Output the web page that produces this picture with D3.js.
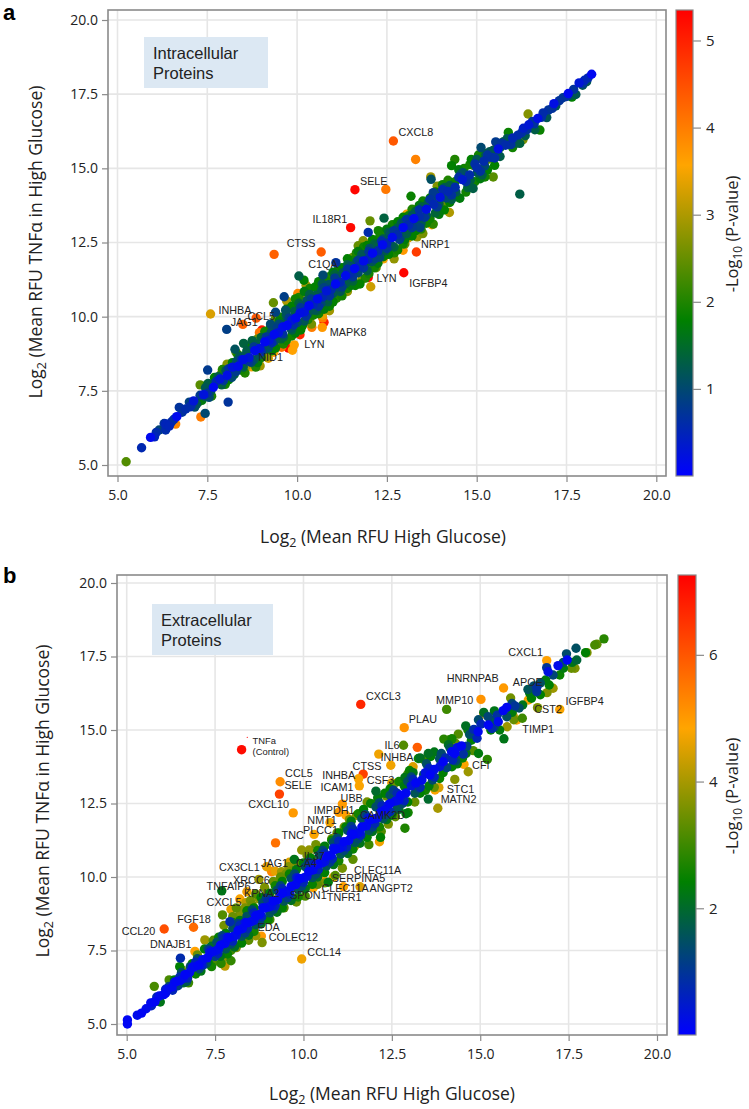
<!DOCTYPE html>
<html><head><meta charset="utf-8">
<script src="https://cdn.jsdelivr.net/npm/d3@7"></script>
<style>html,body{margin:0;padding:0;background:#fff}svg{display:block}</style>
</head><body><svg id="c" width="749" height="1109"></svg>
<script>
const axisTicks=[5,7.5,10,12.5,15,17.5,20];
const aColorTicks=[1,2,3,4,5];
const bColorTicks=[2,4,6];
const aColorMax=5.35, bColorMax=7.26;
const colorStops=["#0000ff","#008000","#ffa500","#ff0000"];

// Panel a: [mean RFU high glucose, mean RFU TNFa + high glucose, -log10 p]
const aOutliers=[[12.68,15.92,4.4],[13.3,15.3,3.95],[11.61,14.28,5.3],[12.47,14.29,4.05],[13.17,14.06,1.85],[11.49,13,5.25],[12.42,13.32,1.35],[9.36,12.1,4.3],[10.67,12.18,4.35],[13.32,12.18,4.7],[12.97,11.48,5.3],[11.98,11.32,5.3],[12.05,11.01,3.2],[7.59,10.09,3.3],[8.04,9.57,.85],[8.86,9.95,4.4],[8.49,9.74,4.3],[9.02,9.55,5.1],[8.95,9.46,4.1],[10.08,9.39,4.9],[9.57,8.97,4.2],[9.76,8.94,5.3],[9.92,9.05,3.6],[9.87,8.87,3.6],[10.41,9.64,4],[10.7,9.64,3.7],[10.75,9.81,5],[10.71,9.96,4],[10.87,10.22,3.7],[10.02,10.78,3.9],[9.34,10.47,2.5],[9.71,10.53,3],[9.64,10.67,.85],[9.4,10.15,.9],[9.68,10.22,1.1],[10.05,11.37,1.3],[10.19,11.23,1.8],[10.25,11.06,2.9],[11.08,11.82,.7],[10.72,11.4,1],[7.51,8.2,.8],[8.27,8.9,1.15],[8.51,9.1,1.35],[8.75,9.19,1.35],[9.26,9.75,1],[5.24,5.11,2.35],[5.67,5.58,.55],[6.03,5.95,.5],[6.16,6.18,.95],[6.34,6.18,.6],[6.34,6.38,.5],[6.44,6.31,.5],[6.62,6.38,3.9],[6.57,6.54,.6],[6.72,6.94,.7],[6.9,6.89,.6],[7.02,6.96,.6],[7.32,6.62,4],[7.44,6.74,1],[8.08,7.12,.7],[7.25,7.13,1.7],[7.44,7.3,1.3],[7.3,7.7,2.4],[7.53,7.75,1.3],[16.43,16.83,2.7],[15.88,16.21,1.85],[16.76,16.29,1.85],[16.2,15.84,1.35],[16.29,15.97,2.7],[15.53,15.89,.8],[15.12,15.7,1],[15.39,15.56,1.85],[14.39,15.3,2],[14.3,15.09,1.8],[14.81,15.13,1.9],[14.92,15.09,2.5],[15.46,14.71,2.4],[15.23,14.71,1.9],[14.9,14.32,1.3],[14.53,13.99,1.7],[13.72,14.71,2.9],[13.73,14.63,1.1],[16.2,14.13,1.3],[13.79,14.18,.8],[14.07,13.65,3.5],[14.24,13.51,3],[13.79,13.12,2.1],[13.42,13,.9],[12.03,13.23,2.5],[11.98,12.84,.6],[12.26,12.9,1.9],[13.09,12.65,3.3],[13.34,12.69,2.8],[12.95,12.24,3.7],[11.84,12.56,2.7],[11.7,12.39,2.5],[16.95,16.71,1.2],[17.76,17.49,1.2],[18.06,17.92,1.2]];
const aCore=[[5.92,5.93,.12],[6.65,6.63,.12],[7.12,7.16,.3],[7.4,7.37,.25],[7.67,7.62,.1],[7.85,7.9,.3],[8.05,8.02,.2],[8.2,8.3,.25],[8.36,8.33,.15],[8.5,8.55,.2],[8.66,8.62,.3],[8.82,8.85,.15],[8.96,8.93,.25],[9.1,9.15,.1],[9.22,9.2,.3],[9.36,9.4,.12],[9.48,9.46,.25],[9.6,9.65,.15],[9.72,9.7,.1],[9.85,9.88,.3],[9.97,9.96,.1],[10.08,10.12,.2],[10.2,10.16,.25],[10.33,10.37,.1],[10.45,10.42,.5],[10.57,10.6,.15],[10.7,10.66,.55],[10.82,10.87,.3],[10.95,10.92,.6],[11.07,11.1,.1],[11.2,11.16,.55],[11.35,11.38,.15],[11.47,11.45,.6],[11.6,11.62,.1],[11.72,11.7,.6],[11.85,11.88,.15],[11.97,11.93,.55],[12.1,12.14,.1],[12.25,12.22,.6],[12.38,12.42,.12],[12.5,12.48,.55],[12.65,12.67,.15],[12.8,12.76,.6],[12.95,13,.1],[13.1,13.08,.55],[13.25,13.3,.12],[13.4,13.38,.6],[13.6,13.62,.2],[13.8,13.78,.55],[13.98,14.02,.25],[14.2,14.22,.55],[14.4,14.36,.6],[14.6,14.62,.35],[14.8,14.78,.6],[15,15.02,.6],[15.2,15.24,.6],[15.4,15.37,.65],[15.6,15.65,.2],[15.8,15.78,.6],[16,16.02,.55],[16.15,16.12,.6],[16.3,16.35,.4],[16.45,16.47,.3],[16.55,16.58,.7],[16.7,16.68,.2],[16.85,16.87,.6],[17,16.97,.7],[17.15,17.18,.2],[17.3,17.28,.7],[17.4,17.38,.8],[17.55,17.52,.1],[17.7,17.66,.7],[17.85,17.88,.3],[18,17.97,.5],[18.1,18.05,.6],[18.2,18.17,.1]];
const aNavy=[[6.08,6.1,.6],[6.3,6.4,.7],[6.5,6.45,.6],[6.8,6.78,.7],[7.05,7,.65],[7.3,7.35,.8],[7.5,7.42,.7],[7.75,7.82,.6],[7.95,7.85,.75],[8.1,8.25,.7],[8.3,8.15,.8],[8.45,8.55,.65],[8.65,8.5,.7],[8.8,8.98,.8],[9,8.82,.65],[9.15,9.32,.75],[9.3,9.12,.6],[9.45,9.62,.85],[9.6,9.42,.7],[9.78,9.95,.8],[9.9,9.72,.65],[10.1,10.3,.75],[10.25,10.02,.7],[10.4,10.6,.85],[10.6,10.35,.7],[10.75,10.98,.9],[10.9,10.7,.7],[11.05,11.3,.8],[11.25,11,.85],[11.4,11.6,.7],[11.55,11.35,.75],[11.7,11.9,.85],[11.85,11.65,.7],[12,12.2,.75],[12.15,11.95,.9],[12.35,12.55,.65],[12.5,12.3,.8],[12.7,12.9,.75],[12.85,12.6,.85],[13.05,13.28,.7],[13.2,13,.8],[13.4,13.6,.65],[13.55,13.35,.75],[13.7,13.95,.7],[13.9,13.7,.8],[14.05,14.28,.6],[14.3,14.1,.7],[14.5,14.7,.65],[14.7,14.55,.7],[14.95,15.15,.65],[15.1,14.9,.7],[15.3,15.45,.7],[15.5,15.35,.65],[15.7,15.85,.7],[15.95,15.8,.7],[16.25,16.2,.65],[16.4,16.3,.7],[16.6,16.5,.7],[16.8,16.72,.65],[17.1,17.02,.7],[17.5,17.42,.7],[17.95,17.85,.75]];
const aTeal=[[7.2,7.05,1.2],[7.6,7.5,1.1],[7.9,7.7,1.3],[8.25,8.05,1.4],[8.4,8.65,1.2],[8.6,8.85,1.3],[8.8,8.55,1.2],[9,9.3,1.4],[9.2,8.95,1.1],[9.35,9.65,1.3],[9.55,9.25,1.4],[9.7,10.05,1.2],[9.85,9.55,1.3],[10.05,10.45,1.4],[10.2,9.85,1.2],[10.35,10.75,1.3],[10.55,10.2,1.4],[10.7,11.1,1.2],[10.85,10.5,1.3],[11.05,11.42,1.4],[11.2,10.85,1.2],[11.4,11.75,1.3],[11.55,11.2,1.4],[11.8,12.1,1.2],[11.95,11.55,1.3],[12.15,12.45,1.4],[12.3,12.1,1.2],[12.55,12.85,1.3],[12.7,12.35,1.4],[12.9,13.15,1.2],[13.05,12.8,1.3],[13.3,13.55,1.4],[13.45,13.15,1.2],[13.65,13.85,1.3],[13.85,13.5,1.4],[14.1,14.35,1.2],[14.3,13.95,1.3],[14.55,14.8,1.2],[14.75,14.35,1.4],[15,15.3,1.2],[15.15,14.78,1.3],[15.35,15.55,1.2],[15.65,15.4,1.3],[15.85,16,1.2],[16.1,15.85,1.3],[16.35,16.1,1.25],[16.62,16.3,1.3],[16.9,16.75,1.2],[17.2,17.1,1.2],[17.6,17.45,1.25],[17.95,17.8,1.2]];
const aTealFill=[[7,7.12,.9],[7.15,6.95,1.1],[7.45,7.6,1.2],[7.55,7.28,1],[7.8,7.98,1.3],[8.02,8.18,1.2],[8.18,7.95,1],[8.32,8.5,1.1],[8.5,8.3,1.3],[8.58,8.72,1.2],[8.72,8.46,1],[8.85,9.08,1.3],[8.95,8.72,1.1],[9.08,9.24,1.2],[9.12,8.9,1.3],[9.28,9.48,1.1],[9.38,9.18,1.2],[9.5,9.75,1],[9.62,9.32,1.3],[9.72,9.88,1.2],[9.82,9.62,1.1],[9.93,10.18,1.3],[10,9.8,1],[10.12,10.38,1.2],[10.3,10.1,1.3],[10.28,10.55,1.1],[10.48,10.22,1.2],[10.52,10.72,1.3],[10.66,10.45,1],[10.68,10.88,1.2],[10.8,10.58,1.3],[10.88,11.08,1.1],[11,10.78,1.2],[11.1,11.32,1.3],[11.15,11,1],[11.28,11.48,1.2],[11.35,11.12,1.3],[11.48,11.7,1.1],[11.5,11.3,1.2],[11.65,11.85,1.3],[11.7,11.48,1],[11.82,12.02,1.2],[11.9,11.72,1.3],[12.02,12.3,1.1],[12.08,11.85,1.2],[12.2,12.4,1.3],[12.3,12,1],[12.4,12.62,1.2],[12.45,12.22,1.3],[12.6,12.8,1.1],[12.62,12.4,1.2],[12.78,12.98,1.3],[12.9,12.7,1.2],[13,13.2,1.1],[13.12,12.95,1.3],[13.2,13.42,1.2],[13.32,13.1,1],[13.48,13.7,1.3],[13.6,13.42,1.2],[13.75,13.98,1.1],[13.95,13.8,1.3],[14,14.18,1.2],[14.15,14,1],[14.25,14.42,1.3],[14.42,14.2,1.2],[14.62,14.85,1.1],[14.82,14.6,1.3],[15.02,14.85,1.2],[15.22,15.08,1],[15.25,15.45,1.3],[15.45,15.6,1.2],[15.6,15.45,1.2],[15.75,15.9,1.3],[16.02,15.95,1.2]];
const aGreen=[[7.35,7.18,1.7],[7.7,7.95,1.8],[8,7.72,1.9],[8.2,8.45,1.7],[8.45,8.2,1.9],[8.65,9,1.8],[8.9,8.45,1.7],[9.1,9.5,1.9],[9.3,8.85,1.8],[9.5,9.85,1.7],[9.7,9.2,1.9],[9.7,10.25,1.8],[9.95,9.45,1.7],[9.95,10.6,1.9],[10.15,9.7,1.8],[10.2,10.85,1.7],[10.45,10.05,1.9],[10.5,11,1.8],[10.75,10.25,1.7],[10.8,11.2,1.9],[11,10.5,1.8],[11,11.5,1.7],[11.25,10.7,1.9],[11.25,11.65,1.8],[11.5,11.05,1.7],[11.55,11.9,1.9],[11.75,11.1,1.8],[11.7,12.2,1.7],[12,11.45,1.9],[11.95,12.4,1.8],[12.25,11.8,1.7],[12.3,12.7,1.9],[12.55,12.1,1.8],[12.5,12.95,1.7],[12.8,12.25,1.9],[12.8,13.2,1.8],[13,12.6,1.7],[13.1,13.4,1.9],[13.3,12.9,1.8],[13.4,13.75,1.7],[13.6,13.15,1.9],[13.7,14,1.8],[13.95,13.45,1.7],[14.05,14.45,1.9],[14.25,13.85,1.8],[14.5,14.95,1.7],[14.7,14.2,1.9],[14.85,15.3,1.8],[15.1,14.65,1.7],[15.25,15.5,1.9],[15.5,15.1,1.8],[15.65,15.7,1.7],[16,15.7,1.9],[17.65,17.4,1.8]];
const aGreenFill=[[7.5,7.72,1.9],[7.62,7.32,2],[7.92,8.22,2],[8.1,7.88,1.8],[8.35,8.72,1.9],[8.55,8.1,2],[8.75,9.15,1.8],[8.85,8.3,2],[9,8.62,1.9],[9.25,9.62,2],[9.4,8.95,1.8],[9.55,9.98,1.9],[9.62,9.08,2],[9.85,10.35,1.8],[9.85,9.35,1.9],[10.05,10.65,2],[10.1,9.55,1.8],[10.35,10.95,1.9],[10.3,9.9,2],[10.6,11.18,1.8],[10.6,10.1,1.9],[10.9,11.35,2],[10.9,10.35,1.8],[11.15,11.6,1.9],[11.1,10.62,2],[11.4,11.95,1.8],[11.4,10.95,1.9],[11.65,12.15,2],[11.62,11.05,1.8],[11.85,12.35,1.9],[11.9,11.3,2],[12.1,12.6,1.8],[12.15,11.65,1.9],[12.4,12.85,2],[12.4,12.02,1.8],[12.65,13.1,1.9],[12.7,12.15,2],[12.95,13.35,1.8],[12.95,12.45,1.9],[13.2,13.62,2],[13.2,12.72,1.8],[13.5,13.9,1.9],[13.45,12.95,2],[13.85,14.2,1.8],[13.7,13.3,1.9],[14.2,14.6,2],[14.1,13.6,1.8],[14.4,14.55,1.9],[14.45,14.05,2],[14.65,15,1.9],[14.95,14.55,1.9],[15.05,15.45,1.9],[15.3,14.95,1.8]];
const aOlive=[[7.9,8.1,2.5],[8.05,8.4,2.7],[8.3,8.8,2.4],[8.6,8.35,2.9],[8.97,8.34,2.9],[8.9,9.25,2.6],[9.15,8.65,2.8],[9.4,9.95,2.5],[9.6,9.1,2.9],[9.9,10.3,2.7],[10.1,9.6,2.4],[10.15,10.55,2.8],[10.4,9.75,2.6],[10.6,11,2.5],[10.9,10.2,2.9],[11.1,11.3,2.4],[11.4,10.85,2.8],[11.55,12,2.5],[11.8,11.25,2.7],[11.9,12.45,2.9],[12.2,11.65,2.4],[12.45,12.75,2.6],[12.7,11.95,2.8],[13,12.45,2.5],[13.25,13.6,2.8],[13.5,12.8,2.6],[13.9,14.4,2.7],[14.1,13.8,2.5],[15.3,15.3,2.4]];
const aAmber=[[8.73,8.31,3.5],[9,8.75,3.4],[9.2,8.6,3.3],[9.35,8.8,3.6],[10.35,9.95,3.5],[10.7,10.05,3.4],[11,10.75,3.6],[11.5,11.1,3.5],[11.6,11.75,3.4],[12,12.4,3.3],[12.4,11.95,3.5],[13.3,13.2,3.4],[13.05,13.45,3.5],[13.75,13.1,3.6],[15.55,15.85,3.5]];

// Panel b
const bOutliers=[[8.25,14.33,7.1],[9.34,13.24,5.2],[9.32,12.82,6.3],[9.71,12.18,5],[9.21,11.16,5.6],[6.06,8.23,6.1],[6.89,8.29,5.7],[6.52,7.24,.8],[6.93,7.47,4.9],[7.21,7.86,3.9],[9.95,7.21,4.7],[8.81,7.99,5],[8.83,7.77,3.6],[8.65,8,3.9],[7.69,9.53,2.2],[7.71,8.71,3.2],[7.92,8.48,.8],[5.78,6.28,3.1],[7.78,6.97,4.2],[7.95,7.15,2.9],[7.67,7.06,2.8],[7.78,7.27,3.7],[10.28,9.64,4.8],[11.6,9.67,4.5],[11.13,9.67,4.9],[8.74,9.92,3.9],[9.1,10.18,5.3],[9.2,10.2,4.6],[8.96,10.35,4.6],[9.38,10.18,3.9],[9.58,10.35,3.7],[9.95,10.92,3.8],[10.16,10.92,3.8],[9.74,10.6,2.2],[8.37,9.13,4.2],[8.3,8.88,3.9],[8.7,8.85,3.8],[11.58,13.1,4.8],[11.56,13.34,4.8],[11.69,13.5,6.3],[11.62,15.87,6.7],[12.85,15.08,5.1],[12.83,14.48,3.2],[13.22,14.41,5.9],[12.13,14.18,4.7],[12.47,13.8,4.7],[14.05,15.7,3],[15.02,16.04,5.1],[15.66,16.43,5],[15.86,16.09,3.5],[16.88,17.36,4.9],[17.25,15.7,4.8],[16.62,15.76,3.6],[16.36,16.02,4.7],[16.45,16.08,2.4],[16.03,15.34,4.8],[15.93,15.48,3.9],[15.76,15.11,3.9],[16.19,15.4,3],[15.67,14.7,2.2],[14.91,14.72,.7],[15.2,14,2.8],[14.54,13.83,4.8],[14.66,13.58,3.9],[14.28,13.32,3.7],[13.83,13.04,4.5],[13.72,12.96,4.8],[13.53,12.65,2],[13.8,12.34,4],[12.87,11.66,2.7],[12.18,11.35,2.4],[12.96,12.19,2.6],[12.05,12.92,2],[13.97,14.69,2.8],[14.13,14.67,3],[14.38,14.86,3.2],[14.59,15.14,2.1],[14.47,14.46,.1],[13.53,14.2,2.1],[13.25,14.03,2.5],[12.87,13.39,2.2],[18.5,18.1,2.8],[18.24,17.89,3.1],[18.3,17.92,3.3],[17.71,17.78,1.5],[17.98,17.63,2.4],[18.02,17.63,3.6],[17.44,17.59,1.4],[17.46,17.38,.1],[17.73,17.38,1.9],[17.2,17.19,.2],[17.58,17.1,3.4],[17.68,17.1,3.6],[16.88,17.12,1],[16.92,16.98,.3],[17.25,16.87,2.5],[17.06,16.87,1.3],[17.06,16.42,3.9],[16.89,16.27,3.6],[16.6,16.3,1],[16.95,16.53,2.4]];
const bCore=[[5.02,5.14,.1],[5.02,5,.1],[5.3,5.3,.2],[5.42,5.37,.1],[5.55,5.52,.2],[5.68,5.72,.15],[5.8,5.76,.1],[5.92,5.95,.2],[6.05,6,.1],[6.15,6.18,.2],[6.28,6.26,.15],[6.4,6.44,.1],[6.52,6.48,.2],[6.65,6.68,.1],[6.78,6.75,.2],[6.9,6.94,.15],[7.03,7,.1],[7.15,7.19,.2],[7.28,7.25,.1],[7.4,7.44,.15],[7.52,7.49,.2],[7.65,7.68,.1],[7.78,7.74,.15],[7.9,7.94,.1],[8.02,7.98,.2],[8.15,8.18,.1],[8.27,8.24,.15],[8.4,8.44,.1],[8.52,8.48,.2],[8.65,8.68,.1],[8.77,8.73,.15],[8.9,8.94,.1],[9.02,8.98,.2],[9.15,9.19,.1],[9.27,9.23,.15],[9.4,9.44,.1],[9.52,9.5,.2],[9.65,9.68,.1],[9.78,9.74,.15],[9.9,9.94,.1],[10.02,9.98,.2],[10.15,10.19,.1],[10.27,10.24,.15],[10.4,10.44,.1],[10.52,10.48,.2],[10.65,10.7,.1],[10.78,10.74,.15],[10.9,10.94,.1],[11.02,10.98,.2],[11.15,11.2,.1],[11.28,11.24,.15],[11.4,11.44,.1],[11.52,11.48,.2],[11.65,11.7,.1],[11.78,11.74,.15],[11.9,11.95,.1],[12.02,11.98,.2],[12.18,12.2,.1],[12.3,12.28,.15],[12.45,12.5,.1],[12.6,12.58,.2],[12.75,12.78,.1],[12.9,12.86,.15],[13.18,13.2,.1],[13.35,13.3,.2],[13.58,13.47,.1],[13.7,13.66,.2],[13.95,13.92,.1],[14.19,14.26,.15],[14.28,14.2,.1],[14.94,14.94,.15],[15.23,15.17,.1],[15.51,15.28,.2],[15.65,15.66,.1],[15.75,15.77,.15]];
const bCoreFill=[[6.1,6.05,.3],[6.35,6.42,.3],[6.6,6.55,.35],[6.85,6.92,.3],[7.1,7.02,.35],[7.35,7.42,.3],[7.6,7.55,.35],[7.85,7.95,.3],[8.1,8.02,.35],[8.35,8.45,.3],[8.6,8.52,.35],[8.85,8.96,.3],[9.1,9.02,.35],[9.35,9.46,.3],[9.6,9.52,.35],[9.85,9.96,.3],[10.1,10.02,.35],[10.35,10.46,.3],[10.6,10.52,.35],[10.85,10.98,.3],[11.1,11.02,.35],[11.35,11.48,.3],[11.6,11.52,.35],[11.85,11.98,.3],[12.1,12.02,.35],[12.4,12.45,.35],[12.7,12.62,.3],[13.05,13.1,.4],[13.45,13.55,.3],[13.85,13.75,.4],[14.35,14.4,.3]];
const bNavy=[[5.7,5.62,.6],[5.85,5.92,.7],[6.1,6.18,.6],[6.3,6.15,.7],[6.5,6.6,.8],[6.72,6.56,.7],[6.95,7.1,.7],[7.15,7,.8],[7.35,7.5,.75],[7.58,7.4,.7],[7.75,7.92,.8],[8,7.82,.7],[8.2,8.36,.75],[8.42,8.25,.8],[8.6,8.78,.7],[8.82,8.65,.75],[9,9.18,.8],[9.2,9.02,.7],[9.4,9.6,.75],[9.62,9.42,.8],[9.8,9.98,.7],[10,9.82,.75],[10.2,10.4,.8],[10.42,10.25,.7],[10.6,10.8,.75],[10.82,10.62,.8],[11,11.22,.7],[11.22,11.02,.75],[11.4,11.62,.8],[11.62,11.42,.7],[11.82,12.02,.75],[12.02,11.82,.8],[12.22,12.42,.7],[12.45,12.22,.75],[12.65,12.85,.8],[12.85,12.6,.7],[13.1,13.32,.75],[13.3,13.05,.8],[13.55,13.7,.7],[13.7,13.4,.75],[14.02,14.05,.8],[14.22,13.98,.7],[14.52,14.18,.9],[14.82,15.02,.8],[15.02,15.2,.7],[15.33,15.05,.8],[15.48,15.5,.9],[15.98,15.82,1],[16.6,16.45,.9]];
const bTeal=[[6.2,6.28,1.3],[6.45,6.3,1.2],[6.8,6.95,1.4],[7.05,6.88,1.3],[7.3,7.55,1.4],[7.5,7.3,1.2],[7.7,8,1.3],[7.95,7.72,1.4],[8.15,8.42,1.3],[8.35,8.1,1.2],[8.55,8.88,1.4],[8.75,8.5,1.3],[8.95,9.28,1.2],[9.15,8.9,1.4],[9.35,9.7,1.3],[9.55,9.3,1.2],[9.75,10.1,1.4],[9.95,9.7,1.3],[10.15,10.5,1.2],[10.35,10.1,1.4],[10.55,10.9,1.3],[10.75,10.5,1.2],[10.95,11.32,1.4],[11.15,10.9,1.3],[11.35,11.72,1.2],[11.55,11.3,1.4],[11.75,12.12,1.3],[11.95,11.7,1.2],[12.15,12.52,1.4],[12.35,12.12,1.3],[12.55,12.95,1.2],[12.8,12.5,1.4],[13.05,13.4,1.3],[13.25,13,1.4],[13.48,13.85,1.5],[13.65,13.3,1.4],[13.9,14.2,1.4],[14.05,13.72,1.3],[14.3,13.95,1.4],[14.62,14.45,1.2],[14.8,14.9,1.3],[14.95,15.35,1.4],[15.22,15.45,1.3],[15.4,15.1,1.5],[15.9,15.9,1.3],[16.1,15.75,1.5],[16.52,16.5,1.4],[16.7,16.6,1.5],[17.35,17.3,1.5]];
const bTealFill=[[6.55,6.75,1.5],[6.7,6.45,1.6],[7,7.22,1.5],[7.25,7.05,1.6],[7.55,7.78,1.5],[7.8,7.55,1.6],[8,8.25,1.5],[8.25,7.98,1.6],[8.4,8.66,1.5],[8.65,8.38,1.6],[8.85,9.12,1.5],[9.05,8.78,1.6],[9.25,9.55,1.5],[9.45,9.18,1.6],[9.65,9.95,1.5],[9.85,9.58,1.6],[10.05,10.35,1.5],[10.25,9.98,1.6],[10.45,10.75,1.5],[10.65,10.38,1.6],[10.85,11.18,1.5],[11.05,10.78,1.6],[11.25,11.58,1.5],[11.45,11.18,1.6],[11.65,11.98,1.5],[11.85,11.58,1.6],[12.05,12.38,1.5],[12.25,11.98,1.6],[12.45,12.78,1.5],[12.65,12.35,1.6],[12.95,13.25,1.5],[13.15,12.85,1.6],[13.4,13.48,1.5],[13.85,14.02,1.5],[14.15,14.38,1.6],[14.7,14.85,1.5],[15.3,15.35,1.6],[15.75,15.45,1.5],[16.35,16.38,1.6]];
const bGreen=[[5.95,5.75,2.2],[6.35,6.5,2.3],[6.6,6.4,2],[6.85,7.05,2.4],[7.1,6.8,2.2],[7.3,7.12,2.3],[7.4,7.65,2.1],[7.65,7.3,2.2],[7.8,8.08,2.4],[8.05,7.62,2.1],[8.2,8.52,2.3],[8.45,8.02,2.2],[8.6,8.95,2.4],[8.8,8.4,2.1],[9.05,9.45,2.3],[9.25,8.8,2.2],[9.4,9.85,2.4],[9.65,9.2,2.1],[9.8,10.25,2.3],[10.05,9.6,2.2],[10.2,10.65,2.4],[10.4,10,2.1],[10.6,11.05,2.3],[10.7,9.82,2.3],[10.85,10.42,2.2],[11,11.5,2.4],[11.25,10.8,2.1],[11.35,11.9,2.3],[11.6,11.15,2.2],[11.7,12.3,2.4],[11.95,11.55,2.1],[12.1,12.7,2.3],[12.35,11.95,2.2],[12.45,13,2.4],[12.7,12.3,2.1],[12.85,13.1,2.3],[12.9,12.15,2.3],[13.1,13.55,2.2],[13.3,12.85,2.4],[13.3,14.05,2.1],[13.55,13.1,2.3],[13.7,14.25,2.2],[13.95,13.55,2.4],[14.1,14.5,2.1],[14.35,13.85,2.3],[14.6,14.2,2.2],[14.75,14.65,2.4],[14.95,14.2,2.3],[15.1,15.6,2.1],[15.4,15.65,2.2],[15.55,15,2.3],[15.9,15.6,2.3],[16.2,15.85,2.2],[16.4,16.25,2.3],[16.7,16.2,2.4],[16.85,16.7,2.3],[17.35,17.1,2.3],[17.6,17.3,2.2]];
const bGreenFill=[[6.5,6.95,2.4],[6.95,6.7,2.5],[7.2,7.55,2.4],[7.4,6.95,2.6],[7.6,7.95,2.4],[7.85,7.38,2.5],[8,8.45,2.6],[8.25,7.75,2.4],[8.4,8.85,2.5],[8.6,8.15,2.6],[8.8,9.3,2.4],[9,8.55,2.5],[9.2,9.7,2.6],[9.4,8.95,2.4],[9.6,10.1,2.5],[9.85,9.32,2.6],[10,10.48,2.4],[10.25,9.75,2.5],[10.4,10.9,2.6],[10.6,10.15,2.4],[10.8,11.25,2.5],[11,10.55,2.6],[11.2,11.7,2.4],[11.4,10.95,2.5],[11.55,12.15,2.6],[11.8,11.35,2.4],[11.9,12.5,2.5],[12.15,11.7,2.6],[12.3,12.85,2.4],[12.5,12.1,2.5],[12.7,13.25,2.6],[12.95,12.55,2.4],[13,13.62,2.5],[13.45,12.95,2.6],[13.6,14.1,2.4],[13.85,13.35,2.5],[14.2,14.7,2.6],[14.2,13.75,2.4],[14.5,14.05,2.5],[14.65,15,2.6],[15.3,15,2.4]];
const bOlive=[[6.2,6.5,3.1],[6.55,6.85,3.3],[6.75,6.4,3],[7,7.35,3.4],[7.45,7.85,3.2],[7.45,7.1,3.1],[7.75,8.35,3.5],[8,8.65,3.4],[7.95,7.5,3],[8.2,8.75,3.6],[8.1,8.95,3.3],[8.45,7.85,3.3],[8.5,9.2,3.5],[8.65,9.42,3.2],[8.9,9.65,3.6],[9.05,8.55,3],[9.15,9.85,3.4],[9.45,8.95,3.2],[9.5,10.1,3.5],[9.8,10.5,3.4],[10.05,9.35,3.1],[10.1,10.75,3.6],[10.4,9.75,3.3],[10.35,11.1,3.5],[10.8,11.3,3.4],[10.9,10.05,3.2],[11.15,11.7,3.5],[11.4,10.6,3.3],[11.5,12.1,3.6],[11.85,11.1,3],[11.8,12.55,3.5],[12.2,11.55,3.2],[12.1,12.6,3.4],[12.55,13.15,3.5],[12.6,12.05,3.3],[12.95,13.5,3],[13.15,12.55,3.4],[13.4,14,3],[13.7,13.05,3.4],[14.3,14.55,3.3],[14.45,14.1,3.1],[14.8,14.3,3.2],[15.95,15.35,3.4]];
const bOliveFill=[[8.35,8.95,3.6],[8.55,9.05,3.4],[8.75,9.25,3.7],[8.95,9.4,3.5],[9.25,9.6,3.6],[9.35,10,3.3],[9.65,10.2,3.5],[9.9,10.4,3.7],[10.25,10.6,3.4],[10.5,10.98,3.6],[10.95,11.5,3.4],[11.3,11.95,3.6],[12.35,12.75,3.4],[8.1,7.6,3.6],[9.8,9.15,3.4],[10.6,9.8,3.6],[11.1,10.3,3.5],[12.4,11.8,3.6]];
const bAmber=[[7.95,8.9,4.6],[8.2,9.25,4.8],[8.4,9.5,4.7],[9.6,10.5,4.5],[10.55,9.9,4.8],[10.3,11.45,4.8],[10.85,10,4.7],[11,12.2,5],[11.2,12.1,4.9],[10.75,11.85,4.7],[11.45,11.05,4.5],[11.1,12.48,5],[12.15,11.2,4.7],[12.5,13.2,4.6],[13.2,12.9,4.8],[13.1,13.75,4.5],[15.1,15.55,4.7]];

const aLabels=[["CXCL8",12.82,16.23],["SELE",11.75,14.57],["IL18R1",10.43,13.28],["CTSS",9.71,12.47],["C1QA",10.31,11.77],["NRP1",13.45,12.45],["LYN",12.21,11.29],["IGFBP4",13.12,11.14],["INHBA",7.81,10.22],["CCL5",8.62,10.03],["JAG1",8.15,9.82],["MAPK8",10.91,9.49],["LYN",10.2,9.07],["NID1",8.92,8.63]];
const bLabels=[["CCL5",9.48,13.53],["SELE",9.46,13.12],["CXCL10",8.44,12.47],["TNC",9.38,11.43],["PLCC1",9.99,11.6],["NMT1",10.11,11.94],["IMPDH1",10.29,12.28],["UBB",11.05,12.68],["CAMK2D",11.6,12.11],["INHBA",10.53,13.47],["ICAM1",10.48,13.07],["CTSS",11.39,13.78],["CSF3",11.79,13.3],["INHBA",12.18,14.09],["IL6",12.29,14.48],["IL37",10.01,10.71],["CA4",9.79,10.47],["JAG1",8.8,10.47],["CX3CL1",7.61,10.33],["XRCC6",8.01,9.9],["TNFAIP6",7.26,9.69],["KPNA2",8.32,9.45],["CXCL5",7.26,9.13],["SPON1",9.62,9.39],["TNFR1",10.66,9.33],["CLEC11A",10.51,9.62],["ANGPT2",11.87,9.63],["CLEC11A",11.43,10.24],["SERPINA5",10.8,9.96],["EDA",8.7,8.31],["COLEC12",9.02,7.95],["CCL14",10.11,7.46],["CCL20",4.86,8.17],["FGF18",6.43,8.56],["DNAJB1",5.66,7.72],["CXCL3",11.77,16.16],["PLAU",12.98,15.36],["MMP10",13.75,16],["HNRNPAB",14.05,16.75],["APOE",15.92,16.62],["CXCL1",15.79,17.65],["IGFBP4",17.41,15.98],["CST2",16.53,15.7],["TIMP1",16.19,15.03],["CFI",14.77,13.81],["STC1",14.05,12.99],["MATN2",13.88,12.65]];
const bControlLabels=[["TNFa",8.56,14.63],["(Control)",8.56,14.25]];
const bControlTick=[[8.41,14.75]];

const panels=[
 {letter:"a",letterY:20,frame:[108,10,666,476],xr:[117.5,656.3],yr:[465,20],points:[aOutliers,aCore,aNavy,aTeal,aTealFill,aGreen,aGreenFill,aOlive,aAmber],labels:aLabels,cMax:aColorMax,cTicks:aColorTicks,
  box:[144,37,124,51],boxText:["Intracellular","Proteins"],textX:153,textY:[59,79],xT:[383,543],yT:[42,242],bar:[676,693],barT:[738,234]},
 {letter:"b",letterY:583,frame:[117,575,667,1035],xr:[126.7,657],yr:[1024,583],points:[bOutliers,bCore,bCoreFill,bNavy,bTeal,bTealFill,bGreen,bGreenFill,bOlive,bOliveFill,bAmber],labels:bLabels,cMax:bColorMax,cTicks:bColorTicks,
  box:[152,604,121,51],boxText:["Extracellular","Proteins"],textX:161,textY:[626,646],xT:[392,1100],yT:[49,801],bar:[678,696],barT:[738,796]}
];
const svg=d3.select("#c");
const defs=svg.append("defs");
const TICKFONT='"Open Sans",sans-serif', LBL='"Liberation Sans",Arial,sans-serif', GREY="#8a8a8a";
function sub(sel,a,b,c){sel.append("tspan").text(a);sel.append("tspan").attr("dy","0.3em").attr("font-size","0.72em").text(b);sel.append("tspan").attr("dy","-0.22em").text(c);}
panels.forEach((p,i)=>{
 const g=svg.append("g");
 const x=d3.scaleLinear().domain([5,20]).range(p.xr), y=d3.scaleLinear().domain([5,20]).range(p.yr);
 const [L,T,R,B]=p.frame;
 const color=d3.scaleLinear().domain([0,1/3,2/3,1].map(f=>f*p.cMax)).range(colorStops);
 g.append("text").attr("x",3).attr("y",p.letterY).attr("font-family",LBL).attr("font-weight","bold").attr("font-size",22).text(p.letter);
 g.append("g").selectAll("line").data(axisTicks).join("line").attr("x1",d=>x(d)).attr("x2",d=>x(d)).attr("y1",T).attr("y2",B).attr("stroke","#e6e6e6").attr("stroke-width",1.6);
 g.append("g").selectAll("line").data(axisTicks).join("line").attr("y1",d=>y(d)).attr("y2",d=>y(d)).attr("x1",L).attr("x2",R).attr("stroke","#e6e6e6").attr("stroke-width",1.6);
 g.append("rect").attr("x",p.box[0]).attr("y",p.box[1]).attr("width",p.box[2]).attr("height",p.box[3]).attr("fill","#dce8f3");
 p.boxText.forEach((t,j)=>g.append("text").attr("x",p.textX).attr("y",p.textY[j]).attr("font-family",LBL).attr("font-size",16.5).attr("fill","#222").text(t));
 const pts=p.points.flat().slice().sort((a,b)=>b[2]-a[2]);
 g.append("g").selectAll("circle").data(pts).join("circle").attr("cx",d=>x(d[0])).attr("cy",d=>y(d[1])).attr("r",4.7).attr("fill",d=>color(d[2]));
 g.append("g").selectAll("text").data(p.labels).join("text").attr("x",d=>x(d[1])).attr("y",d=>y(d[2])).attr("dy","0.36em").attr("font-family",LBL).attr("font-size",10.8).attr("fill","#222").text(d=>d[0]);
 if(i===1){
  g.append("g").selectAll("text").data(bControlLabels).join("text").attr("x",d=>x(d[1])).attr("y",d=>y(d[2])).attr("dy","0.36em").attr("font-family",LBL).attr("font-size",9.4).attr("fill","#222").text(d=>d[0]);
  g.append("g").selectAll("circle").data(bControlTick).join("circle").attr("cx",d=>x(d[0])).attr("cy",d=>y(d[1])).attr("r",.6).attr("fill","#ff0000");
 }
 g.append("rect").attr("x",L).attr("y",T).attr("width",R-L).attr("height",B-T).attr("fill","none").attr("stroke",GREY).attr("stroke-width",1.6);
 const fmt=d3.format(".1f");
 const ax=g.append("g").attr("transform",`translate(0,${B})`).call(d3.axisBottom(x).tickValues(axisTicks).tickFormat(fmt).tickSize(6).tickPadding(8));
 const ay=g.append("g").attr("transform",`translate(${L},0)`).call(d3.axisLeft(y).tickValues(axisTicks).tickFormat(fmt).tickSize(6).tickPadding(4));
 [ax,ay].forEach(a=>{a.select(".domain").remove();a.selectAll(".tick line").attr("stroke",GREY).attr("stroke-width",1.2);a.selectAll("text").attr("font-family",TICKFONT).attr("font-size",14).attr("fill","#222");});
 const xt=g.append("text").attr("x",p.xT[0]).attr("y",p.xT[1]).attr("text-anchor","middle").attr("font-family",TICKFONT).attr("font-size",17.5).attr("fill","#222");
 sub(xt,"Log","2"," (Mean RFU High Glucose)");
 const yt=g.append("text").attr("transform",`translate(${p.yT[0]},${p.yT[1]}) rotate(-90)`).attr("text-anchor","middle").attr("font-family",TICKFONT).attr("font-size",17.5).attr("fill","#222");
 sub(yt,"Log","2"," (Mean RFU TNFα in High Glucose)");
 const id="cb"+i;
 defs.append("linearGradient").attr("id",id).attr("x1",0).attr("x2",0).attr("y1",1).attr("y2",0).selectAll("stop").data(colorStops).join("stop").attr("offset",(d,j)=>j/3).attr("stop-color",d=>d);
 const cy=d3.scaleLinear().domain([0,p.cMax]).range([B,T]);
 g.append("rect").attr("x",p.bar[0]).attr("y",T).attr("width",p.bar[1]-p.bar[0]).attr("height",B-T).attr("fill",`url(#${id})`).attr("stroke",GREY).attr("stroke-width",1.2);
 const ac=g.append("g").attr("transform",`translate(${p.bar[1]},0)`).call(d3.axisRight(cy).tickValues(p.cTicks).tickFormat(d3.format("d")).tickSize(8).tickPadding(5));
 ac.select(".domain").remove();ac.selectAll(".tick line").attr("stroke",GREY).attr("stroke-width",1.2);ac.selectAll("text").attr("font-family",TICKFONT).attr("font-size",15).attr("fill","#222");
 const ct=g.append("text").attr("transform",`translate(${p.barT[0]},${p.barT[1]}) rotate(-90)`).attr("text-anchor","middle").attr("font-family",TICKFONT).attr("font-size",16.5).attr("fill","#222");
 sub(ct,"-Log","10"," (P-value)");
});
</script></body></html>
